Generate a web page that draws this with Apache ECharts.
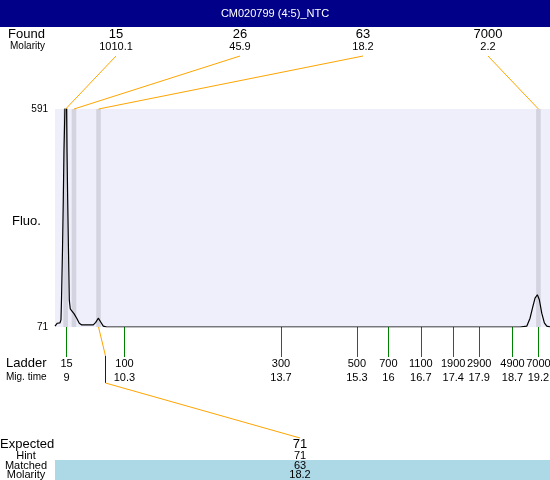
<!DOCTYPE html>
<html>
<head>
<meta charset="utf-8">
<script src="https://cdn.jsdelivr.net/npm/echarts@6/dist/echarts.min.js"></script>
<style>
html, body { margin: 0; padding: 0; background: #fff; }
#main { width: 550px; height: 480px; }
</style>
</head>
<body>
<div id="main"></div>
<script>
// electropherogram trace: migration time (s) / fluorescence
var traceTimes = [8.81, 8.86, 8.918, 8.939, 8.95, 8.972, 8.989, 9.004, 9.026, 9.045, 9.06, 9.069, 9.084, 9.101, 9.119,
  9.14, 9.177, 9.22, 9.279, 9.335, 9.387, 9.637, 9.689, 9.745, 9.797, 9.853, 9.927,
  18.853, 18.998, 19.069, 19.128, 19.177, 19.227, 19.27, 19.322, 19.378, 19.43, 19.501];
var traceFluo = [73, 80, 81, 88, 135, 255, 374, 493, 600, 780, 600, 493, 374, 255, 135,
  114, 109, 103, 92, 80, 76, 76, 82, 92, 83, 73, 71,
  71, 73, 92, 119, 140, 148, 136, 104, 81, 73, 71];

// found peaks
var foundSizes = ['15', '26', '63', '7000'];
var foundMolarity = ['1010.1', '45.9', '18.2', '2.2'];
var foundTimes = [9.04, 9.22, 9.75, 19.25];

// ladder
var ladderSizes = ['15', '100', '300', '500', '700', '1100', '1900', '2900', '4900', '7000'];
var ladderTimeLabels = ['9', '10.3', '13.7', '15.3', '16', '16.7', '17.4', '17.9', '18.7', '19.2'];
var ladderTimes = [9.06, 10.31, 13.69, 15.33, 16.01, 16.71, 17.41, 17.97, 18.69, 19.25];

// expected fragment table
var expectedSize = '71';
var hintSize = '71';
var matchedSize = '63';
var matchedMolarity = '18.2';
var matchedPeak = 2;

var fluoRange = [71, 591];
var timeRange = [8.81, 19.5];

var FONT = '"Liberation Sans", Arial, sans-serif';

var traceData = [];
for (var i = 0; i < traceTimes.length; i++) {
  traceData.push([traceTimes[i], traceFluo[i]]);
}
var bands = [];
for (var i = 0; i < foundTimes.length; i++) {
  bands.push([{ xAxis: foundTimes[i] - 0.05 }, { xAxis: foundTimes[i] + 0.05 }]);
}

var chart = echarts.init(document.getElementById('main'));
chart.setOption({
  animation: false,
  backgroundColor: '#fff',
  grid: {
    left: 55, right: 0, top: 109, bottom: 153,
    containLabel: false,
    outerBoundsMode: 'none',
    show: true, backgroundColor: '#EFEFFC', borderWidth: 0
  },
  xAxis: {
    type: 'value',
    min: timeRange[0],
    max: timeRange[1],
    axisLine: { show: false },
    splitLine: { show: false },
    axisTick: {
      show: true, length: 30, customValues: ladderTimes,
      lineStyle: { color: '#008000', width: 1 }
    },
    axisLabel: {
      customValues: ladderTimes,
      margin: 30,
      color: '#000',
      fontSize: 11,
      fontFamily: FONT,
      lineHeight: 14,
      formatter: function (v) {
        var k = ladderTimes.indexOf(v);
        return ladderSizes[k] + '\n' + ladderTimeLabels[k];
      }
    }
  },
  yAxis: {
    type: 'value',
    min: fluoRange[0],
    max: fluoRange[1],
    axisLine: { show: false },
    axisTick: { show: false },
    splitLine: { show: false },
    axisLabel: {
      customValues: fluoRange,
      margin: 7,
      color: '#000',
      fontSize: 10,
      fontFamily: FONT
    }
  },
  series: [{
    type: 'line',
    data: traceData,
    symbol: 'none',
    clip: true,
    silent: true,
    z: 5,
    lineStyle: { color: '#000', width: 1.2 },
    markArea: {
      silent: true,
      itemStyle: { color: '#D4D4E0' },
      data: bands
    }
  }]
});

// labels, connectors, header drawn around the grid
var foundX = [116, 240, 363, 488];
var expectedX = 300;
var g = [];
function txt(s, x, y, size, align) {
  g.push({
    type: 'text', z: 10,
    style: { text: s, x: x, y: y, fill: '#000', fontSize: size, fontFamily: FONT,
      align: align || 'center', verticalAlign: 'middle' }
  });
}
function seg(x1, y1, x2, y2, color) {
  g.push({
    type: 'line', z: 10,
    shape: { x1: x1, y1: y1, x2: x2, y2: y2 },
    style: { stroke: color, lineWidth: 1 }
  });
}

g.push({ type: 'rect', z: 9, shape: { x: 0, y: 0, width: 550, height: 27 }, style: { fill: '#000088' } });
g.push({
  type: 'text', z: 10,
  style: { text: 'CM020799 (4:5)_NTC', x: 275, y: 13.5, fill: '#fff', fontSize: 11, fontFamily: FONT,
    align: 'center', verticalAlign: 'middle' }
});

txt('Found', 8, 34, 13, 'left');
txt('Molarity', 10, 46, 10, 'left');
for (var i = 0; i < foundSizes.length; i++) {
  txt(foundSizes[i], foundX[i], 34, 13);
  txt(foundMolarity[i], foundX[i], 47, 11);
  var p = chart.convertToPixel({ gridIndex: 0 }, [foundTimes[i], fluoRange[1]]);
  seg(foundX[i], 56, p[0], p[1], '#FFA500');
}

txt('Fluo.', 12, 221, 13, 'left');
txt('Ladder', 6, 363, 13, 'left');
txt('Mig. time', 6, 377, 10, 'left');

// matched peak -> expected fragment
var mp = chart.convertToPixel({ gridIndex: 0 }, [foundTimes[matchedPeak], fluoRange[0]]);
var bx = Math.round(mp[0]) + 6.5;
seg(mp[0], mp[1], bx, 356, '#FFA500');
seg(bx, 356, bx, 383, '#0000FF');
seg(bx, 383, expectedX, 438, '#FFA500');

g.push({ type: 'rect', z: 9, shape: { x: 55, y: 460, width: 495, height: 20 }, style: { fill: '#ADD8E6' } });
txt('Expected', 0, 444, 13, 'left');
txt('Hint', 26, 456, 11);
txt('Matched', 26, 466, 11);
txt('Molarity', 26, 475, 11);
txt(expectedSize, expectedX, 444, 13);
txt(hintSize, expectedX, 456, 11);
txt(matchedSize, expectedX, 466, 11);
txt(matchedMolarity, expectedX, 475, 11);

chart.setOption({ graphic: g });
</script>
</body>
</html>
